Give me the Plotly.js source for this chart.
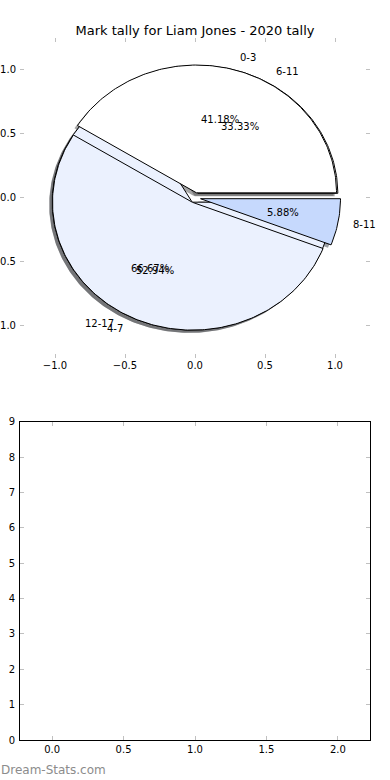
<!DOCTYPE html>
<html>
<head>
<meta charset="utf-8">
<script src="https://cdn.plot.ly/plotly-3.0.1.min.js"></script>
<style>html,body{margin:0;padding:0;background:#fff;}#chart{width:390px;height:780px;}</style>
</head>
<body>
<div id="chart"></div>
<script>
// ---- data ----
const titleText = 'Mark tally for Liam Jones - 2020 tally';
const backLabels = ['6-11', '12-17'];
const backValues = [1, 2];
const frontLabels = ['0-3', '4-7', '8-11'];
const frontValues = [7, 9, 1];
const pieTickVals = [-1, -0.5, 0, 0.5, 1];
const pieTickText = ['\u22121.0', '\u22120.5', '0.0', '0.5', '1.0'];
const barTickVals = [0, 0.5, 1, 1.5, 2];
const barTickText = ['0.0', '0.5', '1.0', '1.5', '2.0'];
const barYTicks = [0, 1, 2, 3, 4, 5, 6, 7, 8, 9];
const watermark = 'Dream-Stats.com';

// ---- style ----
const sliceColors = ['#FFFFFF', '#EBF1FE', '#C6D9FD'];
const shadowColors = ['rgba(77,77,77,0.5)', 'rgba(70,72,76,0.5)', 'rgba(59,65,76,0.5)'];
const EXPLODE = 0.04, LABEL_D = 1.1, PCT_D = 0.6, SH = -0.022;
const FONT = 'DejaVu Sans, Liberation Sans, sans-serif';

function wedgePath(cx, cy, t1, t2) {
  const xs = [cx], ys = [cy];
  const n = Math.max(2, Math.ceil(t2 - t1));
  for (let i = 0; i <= n; i++) {
    const a = (t1 + (t2 - t1) * i / n) * Math.PI / 180;
    xs.push(cx + Math.cos(a)); ys.push(cy + Math.sin(a));
  }
  xs.push(cx); ys.push(cy);
  return {xs, ys};
}

function buildPie(labels, values) {
  const total = values.reduce((a, b) => a + b, 0);
  let start = 0;
  const out = [];
  values.forEach((v, i) => {
    const span = 360 * v / total;
    const mid = (start + span / 2) * Math.PI / 180;
    const cx = EXPLODE * Math.cos(mid), cy = EXPLODE * Math.sin(mid);
    out.push({label: labels[i], pct: (100 * v / total).toFixed(2) + '%', t1: start, t2: start + span,
              cx, cy, mid, color: sliceColors[i % sliceColors.length], shadow: shadowColors[i % shadowColors.length]});
    start += span;
  });
  return out;
}

const pies = [buildPie(backLabels, backValues), buildPie(frontLabels, frontValues)];
const traces = [];
// shadows (below all wedges)
pies.forEach(p => p.forEach(w => {
  const g = wedgePath(w.cx + SH, w.cy + SH, w.t1, w.t2);
  traces.push({type: 'scatter', x: g.xs, y: g.ys, mode: 'lines', fill: 'toself', fillcolor: w.shadow,
               line: {width: 0, color: 'rgba(0,0,0,0)'}, hoverinfo: 'skip', showlegend: false, xaxis: 'x', yaxis: 'y'});
}));
// wedges
pies.forEach(p => p.forEach(w => {
  const g = wedgePath(w.cx, w.cy, w.t1, w.t2);
  traces.push({type: 'scatter', x: g.xs, y: g.ys, mode: 'lines', fill: 'toself', fillcolor: w.color,
               line: {width: 1, color: '#000'}, hoverinfo: 'skip', showlegend: false, xaxis: 'x', yaxis: 'y'});
}));
// empty lower subplot
traces.push({type: 'scatter', x: [], y: [], xaxis: 'x2', yaxis: 'y2', showlegend: false});

const annotations = [];
pies.forEach(p => p.forEach(w => {
  const lx = w.cx + LABEL_D * Math.cos(w.mid), ly = w.cy + LABEL_D * Math.sin(w.mid);
  annotations.push({xref: 'x', yref: 'y', x: lx, y: ly, text: w.label, showarrow: false,
                    xanchor: lx > 0 ? 'left' : 'right', yanchor: 'middle', borderpad: 0,
                    font: {family: FONT, size: 10, color: '#000'}});
  annotations.push({xref: 'x', yref: 'y', x: w.cx + PCT_D * Math.cos(w.mid), y: w.cy + PCT_D * Math.sin(w.mid),
                    text: w.pct, showarrow: false, xanchor: 'center', yanchor: 'middle', borderpad: 0,
                    font: {family: FONT, size: 10, color: '#000'}});
}));
annotations.push({xref: 'paper', yref: 'paper', x: -20 / 350, y: (740 - 770) / 702, text: watermark,
                  showarrow: false, xanchor: 'left', yanchor: 'middle', borderpad: 0,
                  font: {family: FONT, size: 12, color: '#8c8c8c'}});

const tickCommon = {ticks: 'inside', ticklen: 4, tickwidth: 1, tickcolor: '#c0c0c0', showgrid: false,
                    zeroline: false, fixedrange: true, tickfont: {family: FONT, size: 10, color: '#000'}};

const layout = {
  width: 390, height: 780,
  margin: {l: 20, r: 20, t: 38, b: 40},
  paper_bgcolor: '#fff', plot_bgcolor: '#fff',
  showlegend: false,
  title: {text: titleText, x: 0.5, xref: 'paper', xanchor: 'center', y: 1 - 30 / 780, yref: 'container', yanchor: 'middle',
          font: {family: FONT, size: 13, color: '#000'}},
  xaxis: Object.assign({}, tickCommon, {domain: [0, 1], anchor: 'y', range: [-1.25, 1.25], tickmode: 'array',
          tickvals: pieTickVals, ticktext: pieTickText, showline: false, mirror: 'ticks'}),
  yaxis: Object.assign({}, tickCommon, {domain: [(740 - 357.5) / 702, 1], anchor: 'x', range: [-1.25, 1.25], tickmode: 'array',
          tickvals: pieTickVals, ticktext: pieTickText, showline: false, mirror: 'ticks', ticklabelstandoff: 3}),
  xaxis2: Object.assign({}, tickCommon, {domain: [0, 1], anchor: 'y2', range: [-0.225, 2.225], tickmode: 'array',
          tickvals: barTickVals, ticktext: barTickText, showline: true, linecolor: '#000', linewidth: 1, mirror: 'ticks'}),
  yaxis2: Object.assign({}, tickCommon, {domain: [0, (740 - 421.7) / 702], anchor: 'x2', range: [0, 9], tickmode: 'array',
          tickvals: barYTicks, ticktext: barYTicks.map(String), showline: true, linecolor: '#000', linewidth: 1, mirror: 'ticks', ticklabelstandoff: 2}),
  annotations: annotations
};

Plotly.newPlot('chart', traces, layout, {displayModeBar: false, staticPlot: true});
</script>
</body>
</html>
